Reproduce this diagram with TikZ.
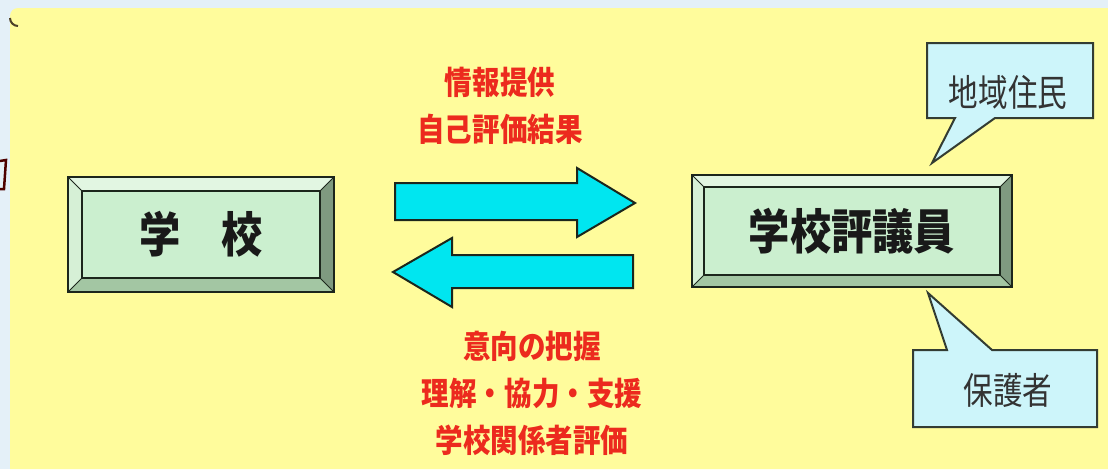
\documentclass[tikz,border=0pt]{standalone}
\usepackage{fontspec}
\newfontfamily\jpA{Noto Sans CJK JP}[FakeStretch=0.86]
\newfontfamily\jpC{Noto Sans CJK JP}[FakeStretch=0.8]
\definecolor{bgblue}{HTML}{E4F0F8}
\definecolor{paper}{HTML}{FFFC9C}
\definecolor{face}{HTML}{CBEFCF}
\definecolor{bevtop}{HTML}{E2F6E2}
\definecolor{bevleft}{HTML}{D6F0D6}
\definecolor{bevright}{HTML}{7F9A80}
\definecolor{bevbottom}{HTML}{A3C6A3}
\definecolor{arrowcyan}{HTML}{00E6F0}
\definecolor{callfill}{HTML}{CDF5FA}
\definecolor{redtext}{HTML}{EC2A1E}
\definecolor{edge}{HTML}{1C261C}
\tikzset{
  boxline/.style={draw=edge, line width=2.5pt},
  thinline/.style={draw=edge, line width=1pt},
  blockarrow/.style={fill=arrowcyan, draw=edge, line width=2pt, line join=miter},
  callout/.style={fill=callfill, draw=edge!90, line width=2pt, line join=miter},
  boxtext/.style={font=\jpA\bfseries\fontsize{48}{56}\selectfont, text=black!90},
  redlabel/.style={font=\jpA\bfseries\fontsize{32}{47}\selectfont, text=redtext, align=center},
  calltext/.style={font=\jpC\fontsize{37}{42}\selectfont, text=black!80},
}
\newcommand\bevelbox[7]{%
  \fill[bevtop] (#2,#3) -- (#4,#3) -- ({#4-#6},{#3+#6}) -- ({#2+#6},{#3+#6}) -- cycle;
  \fill[bevleft] (#2,#3) -- ({#2+#6},{#3+#6}) -- ({#2+#6},{#5-#6}) -- (#2,#5) -- cycle;
  \fill[bevright] (#4,#3) -- (#4,#5) -- ({#4-#6},{#5-#6}) -- ({#4-#6},{#3+#6}) -- cycle;
  \fill[bevbottom] (#2,#5) -- (#4,#5) -- ({#4-#6},{#5-#6}) -- ({#2+#6},{#5-#6}) -- cycle;
  \fill[face] ({#2+#6},{#3+#6}) rectangle ({#4-#6},{#5-#6});
  \draw[thinline] (#2,#3) -- ({#2+#6},{#3+#6}) (#4,#3) -- ({#4-#6},{#3+#6})
    (#2,#5) -- ({#2+#6},{#5-#6}) (#4,#5) -- ({#4-#6},{#5-#6});
  \draw[boxline, line width=2pt] ({#2+#6},{#3+#6}) rectangle ({#4-#6},{#5-#6});
  \draw[boxline] (#2,#3) rectangle (#4,#5);
  \node[boxtext] (#1) at ({(#2+#4)/2},{(#3+#5)/2}) {#7};
}
\begin{document}
\begin{tikzpicture}[x=1pt,y=-1pt]
\useasboundingbox (0,0) rectangle (1108,469);
\fill[bgblue] (0,0) rectangle (1108,469);
\fill[paper] (1108,469) -- (10,469) [rounded corners=8pt] -- (10,8) [sharp corners] -- (1108,8) -- cycle;
\draw[edge!70!brown, line width=2pt] (10,18) arc[start angle=180, end angle=90, radius=8];
% cut-off glyph at the left edge
\draw[red!30!black, line width=2.5pt, line cap=round] (0,161) -- (6,160) -- (4,189) -- (0,189);

% boxes
\bevelbox{school}{68}{177}{334}{292}{14}{学　校}
\bevelbox{council}{692}{175}{1012}{287}{12}{学校評議員}

% block arrows
\draw[blockarrow] (395,183) -- (577,183) -- (577,168) -- (635,203) -- (577,237) -- (577,220) -- (395,220) -- cycle;
\draw[blockarrow] (633,255) -- (452,255) -- (452,238) -- (393,272) -- (452,307) -- (452,288) -- (633,288) -- cycle;

% red labels
\node[redlabel] (upper) at (500,106) {情報提供\\自己評価結果};
\node[redlabel] (lower) at (532,393) {意向の把握\\理解・協力・支援\\学校関係者評価};

% callouts
\draw[callout] (927,43) -- (1093,43) -- (1093,118) -- (995,118) -- (932,163) -- (955,118) -- (927,118) -- cycle;
\node[calltext] (residents) at (1008,92) {地域住民};
\draw[callout] (913,350) -- (947,350) -- (928,293) -- (992,350) -- (1097,350) -- (1097,427) -- (913,427) -- cycle;
\node[calltext] (guardians) at (1008,390) {保護者};
\end{tikzpicture}
\end{document}
